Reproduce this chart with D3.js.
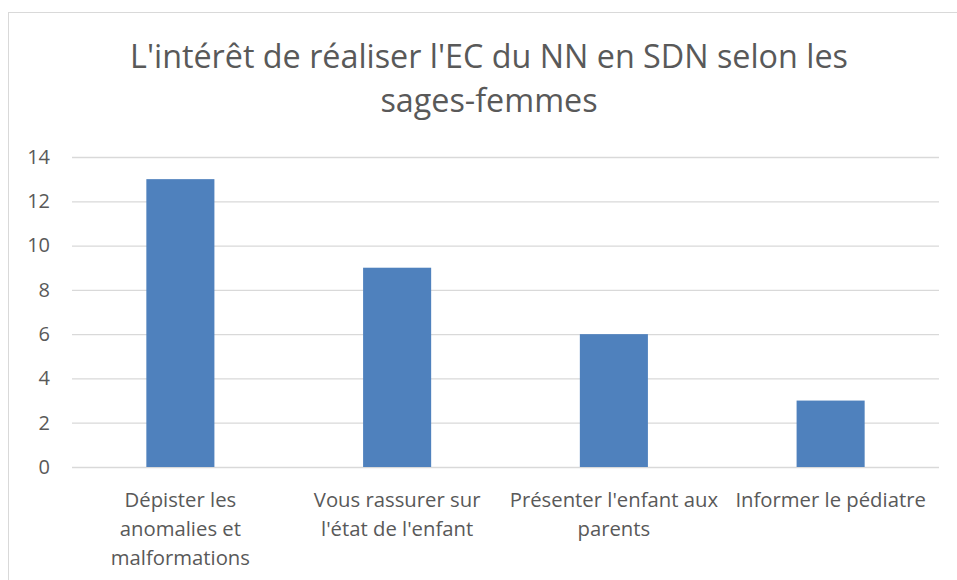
<!DOCTYPE html>
<html><head><meta charset="utf-8">
<script src="https://cdn.jsdelivr.net/npm/d3@7"></script>
<style>body{margin:0;background:#fff}svg{display:block}text{font-family:"Open Sans",sans-serif;fill:#595959}</style>
</head><body>
<script>
const categories = [["Dépister les","anomalies et","malformations"],["Vous rassurer sur","l'état de l'enfant"],["Présenter l'enfant aux","parents"],["Informer le pédiatre"]];
const values = [13, 9, 6, 3];
const yTicks = [0, 2, 4, 6, 8, 10, 12, 14];
const titleLines = ["L'intérêt de réaliser l'EC du NN en SDN selon les", "sages-femmes"];

const W = 957, H = 580;
const svg = d3.select("body").append("svg").attr("width", W).attr("height", H);
svg.append("rect").attr("x", 8.5).attr("y", 12.5).attr("width", W).attr("height", H).attr("fill", "none").attr("stroke", "#d9d9d9");

const m = {l: 72, r: 939, t: 157, b: 467};
const x = d3.scaleBand().domain(categories.map((d,i)=>i)).range([m.l, m.r]).paddingInner(0.686).paddingOuter(0.343);
const y = d3.scaleLinear().domain([0, 14]).range([m.b, m.t]);

const yAxis = d3.axisLeft(y).tickValues(yTicks).tickSize(-(m.r - m.l)).tickPadding(22);
const gy = svg.append("g").attr("transform", `translate(${m.l},0)`).call(yAxis);
gy.select(".domain").remove();
gy.selectAll("line").attr("stroke", "#d9d9d9").attr("stroke-width", 1.3);
gy.selectAll("text").style("font-size", "20px").attr("fill", "#595959");

svg.append("g").selectAll("rect").data(values).join("rect")
  .attr("x", (d,i)=>x(i)).attr("width", x.bandwidth())
  .attr("y", d=>y(d)).attr("height", d=>y(0)-y(d)).attr("fill", "#4f81bd");

const xl = svg.append("g");
categories.forEach((lines,i)=>{
  const t = xl.append("text").attr("text-anchor","middle").style("font-size","20.3px")
    .attr("x", x(i)+x.bandwidth()/2).attr("y", 507);
  lines.forEach((s,j)=>t.append("tspan").attr("x", x(i)+x.bandwidth()/2).attr("dy", j?29:0).text(s));
});

const tt = svg.append("text").attr("text-anchor","middle").style("font-size","32.3px").attr("x", 489).attr("y", 68);
titleLines.forEach((s,j)=>tt.append("tspan").attr("x",489).attr("dy", j?44:0).text(s));
</script>
</body></html>
